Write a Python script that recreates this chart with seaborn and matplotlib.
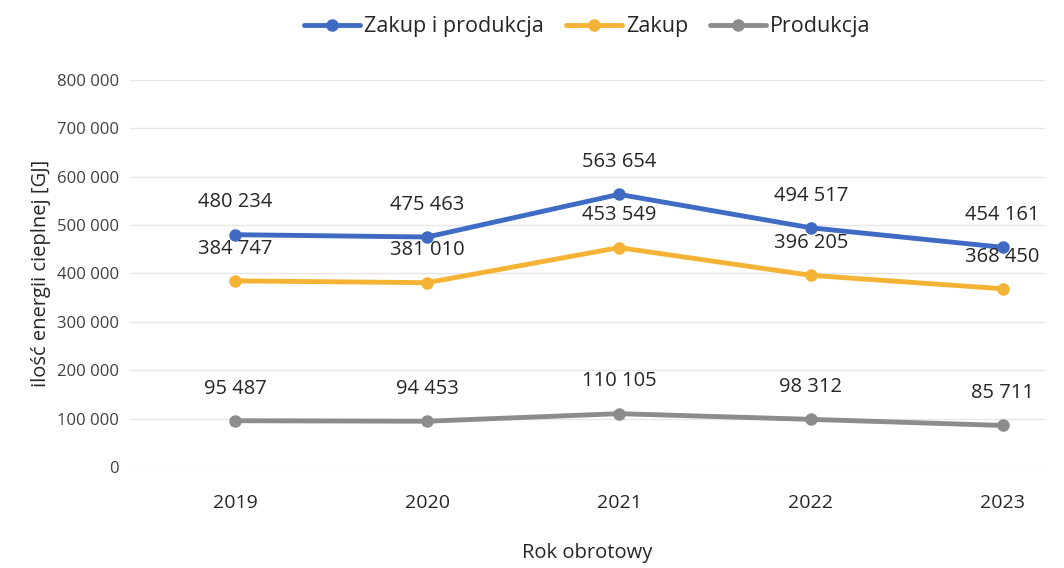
import matplotlib
matplotlib.use("Agg")
import matplotlib.pyplot as plt
import seaborn as sns
import pandas as pd

years = ["2019", "2020", "2021", "2022", "2023"]
zakup_i_produkcja = [480234, 475463, 563654, 494517, 454161]
zakup = [384747, 381010, 453549, 396205, 368450]
produkcja = [95487, 94453, 110105, 98312, 85711]

series_names = ["Zakup i produkcja", "Zakup", "Produkcja"]
colors = ["#3F6BC4", "#F5B335", "#8C8C8C"]


def fmt(v):
    return f"{v:,.0f}".replace(",", " ")


sns.set_style("white")
plt.rcParams['font.family'] = ['Open Sans', 'DejaVu Sans']

df = pd.DataFrame({
    "Rok": years * 3,
    "value": zakup_i_produkcja + zakup + produkcja,
    "seria": [series_names[0]] * 5 + [series_names[1]] * 5 + [series_names[2]] * 5,
})

fig = plt.figure(figsize=(10.64, 5.68), dpi=100)
ax = fig.add_axes([0.122, 0.178, 0.86, 0.681])

sns.lineplot(data=df, x="Rok", y="value", hue="seria", palette=colors,
             marker="o", markersize=9, linewidth=3.5, markeredgewidth=0,
             sort=False, ax=ax)

for vals in [zakup_i_produkcja, zakup, produkcja]:
    for i, v in enumerate(vals):
        ax.annotate(fmt(v), (i, v), xytext=(0, 16), textcoords="offset points",
                    ha="center", va="bottom", fontsize=14.5, color="#262626")

ax.set_ylim(0, 800000)
ax.set_xlim(-0.55, 4.22)
ax.set_yticks(range(0, 800001, 100000))
ax.set_yticklabels([fmt(v) for v in range(0, 800001, 100000)], fontsize=12, color="#404040")
ax.tick_params(axis="x", labelsize=14, colors="#262626", pad=16)
ax.tick_params(axis="y", pad=8, length=0)
ax.grid(axis="y", color="#E6E6E6", linewidth=1)
for s in ax.spines.values():
    s.set_visible(False)
ax.set_xlabel("Rok obrotowy", fontsize=14.5, color="#262626", labelpad=22)
ax.set_ylabel("ilość energii cieplnej [GJ]", fontsize=14.5, color="#262626", labelpad=4)

ax.legend(loc="upper center", bbox_to_anchor=(0.5, 1.215), ncol=3, frameon=False,
          fontsize=15.5, handlelength=2.6, columnspacing=1.0, handletextpad=0.2)

fig.savefig("out.png", dpi=100)
